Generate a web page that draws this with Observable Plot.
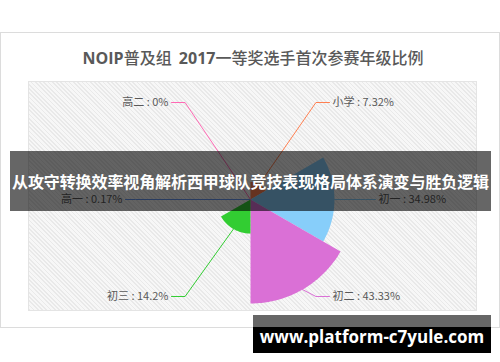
<!DOCTYPE html>
<html><head><meta charset="utf-8">
<script src="https://cdn.jsdelivr.net/npm/d3@7"></script>
<script src="https://cdn.jsdelivr.net/npm/@observablehq/plot@0.6"></script>
<style>
body{margin:0;background:#fff;}
#wrap{position:relative;width:500px;height:362px;overflow:hidden;font-family:"Noto Sans CJK SC","Open Sans",sans-serif;}
#card{position:absolute;left:0;top:32px;width:498px;height:294px;border:1px solid #dcdcdc;background:#fff;}
#plotbg{position:absolute;left:28px;top:81px;width:447px;height:228px;border:1px solid #e4e4e4;background:repeating-linear-gradient(45deg,#e9e9e9 0 1.2px,#f7f7f7 1.2px 3px);}
#title{position:absolute;left:0;top:46px;width:506px;text-align:center;font-size:16px;line-height:22px;color:#595959;font-weight:500;white-space:pre;}
#title b{font-family:"Open Sans",sans-serif;font-weight:bold;}
#chart{position:absolute;left:0;top:0;}
#banner{position:absolute;left:10px;top:151px;width:481px;height:60px;background:rgba(0,0,0,0.6);color:#fff;font-weight:bold;font-size:16px;line-height:60px;text-align:center;white-space:nowrap;letter-spacing:-0.1px;}
#wm{position:absolute;left:253px;top:315px;width:238px;height:38px;background:linear-gradient(#666 0 12px,#000 12px);color:#fff;font-family:"Open Sans",sans-serif;font-weight:bold;font-size:17px;line-height:26px;padding-top:9px;box-sizing:border-box;text-align:center;white-space:nowrap;}
</style></head>
<body>
<div id="wrap">
  <div id="card"></div>
  <div id="plotbg"></div>
  <div id="title"></div>
  <div id="chart"></div>
  <div id="banner"></div>
  <div id="wm"></div>
</div>
<script>
const chartTitle = "NOIP普及组  2017一等奖选手首次参赛年级比例";
const grades = ["小学", "初一", "初二", "初三", "高一", "高二"];
const shares = [7.32, 34.98, 43.33, 14.2, 0.17, 0];
const colors = ["#ff7f50", "#87cefa", "#da70d6", "#32cd32", "#6495ed", "#ff69b4"];
const bannerText = "从攻守转换效率视角解析西甲球队竞技表现格局体系演变与胜负逻辑";
const watermarkText = "www.platform-c7yule.com";

// title: latin runs bold (white-space: pre keeps the double space)
document.getElementById("title").innerHTML = chartTitle
  .replace(/([A-Za-z0-9]+)/g, "<b>$1</b>");
document.getElementById("banner").textContent = bannerText;
document.getElementById("wm").textContent = watermarkText;

// rose (area type): equal angles, radius proportional to value
const R = 104;
const rad = d3.scaleLinear([0, d3.max(shares)], [0, R]);
const step = 360 / grades.length;
const toRad = Math.PI / 180;

const sectorPts = grades.flatMap((g, i) => {
  const a0 = i * step, a1 = (i + 1) * step, rr = rad(shares[i]);
  const pts = [{g, x: 0, y: 0}];
  for (let a = a0; a <= a1 + 1e-9; a += 1) {
    pts.push({g, x: rr * Math.sin(a * toRad), y: rr * Math.cos(a * toRad)});
  }
  return pts;
});

// label layout (pixels from centre)
const elbowDist = 117, cornerTilt = 34, sideReach = 125, cornerReach = 79, gap = 3;
const labels = grades.map((g, i) => {
  const mid = (i + 0.5) * step;
  const s = Math.sin(mid * toRad), c = Math.cos(mid * toRad);
  const side = Math.abs(c) < 1e-6;
  const sx = Math.sign(s), sy = Math.sign(c);
  const start = {x: rad(shares[i]) * s, y: rad(shares[i]) * c};
  let elbow, end;
  if (side) {
    elbow = {x: sx * (sideReach - 10), y: 0};
    end = {x: sx * sideReach, y: 0};
  } else {
    elbow = {x: sx * elbowDist * Math.sin(cornerTilt * toRad), y: sy * elbowDist * Math.cos(cornerTilt * toRad)};
    end = {x: sx * cornerReach, y: elbow.y};
  }
  return {g, i, start, elbow, end, sx, text: `${g} : ${shares[i]}%`};
});
const leaderPts = labels.flatMap(l => [
  {g: l.g, ...l.start}, {g: l.g, ...l.elbow}, {g: l.g, ...l.end}
]);
const textOpts = {
  x: d => d.end.x + d.sx * gap,
  y: d => d.end.y,
  text: "text",
  fill: "#595959",
  fontSize: 11
};

const chart = Plot.plot({
  width: 500,
  height: 362,
  margin: 0,
  x: {domain: [-250, 250], axis: null},
  y: {domain: [-163, 199], axis: null},
  color: {domain: grades, range: colors},
  style: {background: "transparent", fontFamily: "'Noto Sans CJK SC', sans-serif", overflow: "visible"},
  marks: [
    Plot.line(sectorPts, {x: "x", y: "y", z: "g", fill: "g", stroke: "none", curve: "linear-closed"}),
    Plot.line(leaderPts, {x: "x", y: "y", z: "g", stroke: "g", strokeWidth: 1, curve: "linear"}),
    Plot.text(labels.filter(d => d.sx > 0), {...textOpts, textAnchor: "start"}),
    Plot.text(labels.filter(d => d.sx < 0), {...textOpts, textAnchor: "end"})
  ]
});
document.getElementById("chart").appendChild(chart);
</script>
</body></html>
